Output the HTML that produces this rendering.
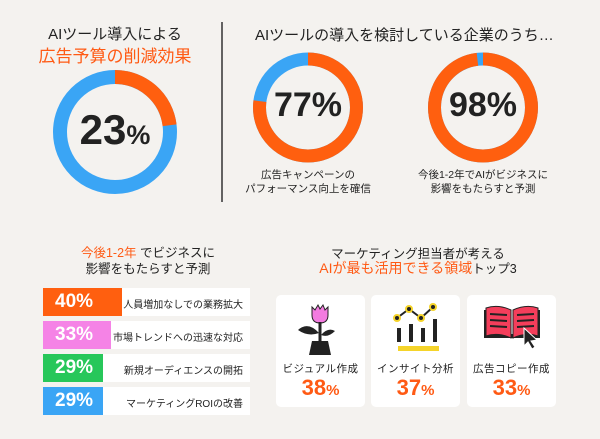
<!DOCTYPE html>
<html><head><meta charset="utf-8"><style>
body{margin:0;width:600px;height:439px;background:#f4f2ef;overflow:hidden;font-family:"Liberation Sans","Noto Sans CJK JP",sans-serif;color:#222;position:relative}
.a{position:absolute;white-space:nowrap}
.c{transform:translateX(-50%);text-align:center}
.o{color:#ff5a14}
.row{position:absolute;left:43px;width:207px;height:28px;background:#fff}
.row .bar{position:absolute;left:0;top:0;height:28px}
.row .p{position:absolute;left:12px;top:3px;font-size:19px;font-weight:bold;color:#fff}
.row .l{position:absolute;right:7px;top:8px;font-size:10px;letter-spacing:0}
.card{position:absolute;top:295px;width:89px;height:112px;background:#fff;border-radius:5px}
.card .t{position:absolute;top:66px;width:100%;text-align:center;font-size:10.5px;letter-spacing:0.5px}
.card .n{position:absolute;top:80px;width:100%;text-align:center;font-size:22px;font-weight:bold;color:#ff5a14}
.card .n small{font-size:15px}
</style></head><body>
<svg class="a" style="left:0;top:0" width="600" height="439">
 <g fill="none" stroke-width="14">
  <circle cx="115" cy="132" r="55" stroke="#3aa5f5"/>
  <circle cx="115" cy="132" r="55" stroke="#ff5f0f" stroke-dasharray="79.5 400" transform="rotate(-90 115 132)"/>
 </g>
 <g fill="none" stroke-width="13">
  <circle cx="308" cy="107.5" r="48.5" stroke="#3aa5f5"/>
  <circle cx="308" cy="107.5" r="48.5" stroke="#ff5f0f" stroke-dasharray="234.6 400" transform="rotate(-90 308 107.5)"/>
  <circle cx="483" cy="107.5" r="48.5" stroke="#3aa5f5"/>
  <circle cx="483" cy="107.5" r="48.5" stroke="#ff5f0f" stroke-dasharray="298.6 400" transform="rotate(-90 483 107.5)"/>
 </g>
 <line x1="222" y1="22" x2="222" y2="202" stroke="#333" stroke-width="1.5"/>
</svg>

<div class="a c" style="left:115px;top:23px;font-size:15px">AIツール導入による</div>
<div class="a c o" style="left:115px;top:42px;font-size:17px">広告予算の削減効果</div>
<div class="a c" style="left:115px;top:106px;font-size:42px;font-weight:bold">23<span style="font-size:27px">%</span></div>

<div class="a" style="left:255px;top:24px;font-size:15px">AIツールの導入を検討している企業のうち…</div>
<div class="a c" style="left:308px;top:86px;font-size:34px;font-weight:bold">77%</div>
<div class="a c" style="left:483px;top:86px;font-size:34px;font-weight:bold">98%</div>
<div class="a c" style="left:308px;top:168px;font-size:10.5px;line-height:14px">広告キャンペーンの<br>パフォーマンス向上を確信</div>
<div class="a c" style="left:483px;top:168px;font-size:10.5px;line-height:14px">今後1-2年でAIがビジネスに<br>影響をもたらすと予測</div>

<div class="a c" style="left:148px;top:245px;font-size:12.5px;line-height:16px"><span class="o">今後1-2年</span> でビジネスに<br>影響をもたらすと予測</div>
<div class="row" style="top:288px"><div class="bar" style="width:79px;background:#ff5f0f"></div><div class="p">40%</div><div class="l">人員増加なしでの業務拡大</div></div>
<div class="row" style="top:321px"><div class="bar" style="width:68px;background:#f583e6"></div><div class="p">33%</div><div class="l">市場トレンドへの迅速な対応</div></div>
<div class="row" style="top:354px"><div class="bar" style="width:60px;background:#27c75a"></div><div class="p">29%</div><div class="l">新規オーディエンスの開拓</div></div>
<div class="row" style="top:387px"><div class="bar" style="width:60px;background:#3aa5f5"></div><div class="p">29%</div><div class="l">マーケティングROIの改善</div></div>

<div class="a c" style="left:418px;top:243px;font-size:12.5px">マーケティング担当者が考える</div>
<div class="a c" style="left:418px;top:258px;font-size:14px"><span class="o">AIが最も活用できる領域</span><span style="font-size:12.5px">トップ3</span></div>
<div class="card" style="left:276px"><div class="t">ビジュアル作成</div><div class="n">38<small>%</small></div></div>
<div class="card" style="left:371px"><div class="t">インサイト分析</div><div class="n">37<small>%</small></div></div>
<div class="card" style="left:467px"><div class="t">広告コピー作成</div><div class="n">33<small>%</small></div></div>

<svg class="a" style="left:0;top:0" width="600" height="439">
 <!-- tulip -->
 <g transform="translate(320,305)">
  <path d="M-8 10 L-8 2 L-5 5 L-2 0 L0 4 L3 0 L5 5 L8 2 L8 10 Q8 18 0 18 Q-8 18 -8 10Z" fill="#f37be0" stroke="#222" stroke-width="1"/>
  <rect x="-1.5" y="17" width="3" height="24" fill="#222"/>
  <path d="M-1 28 Q-12 16 -22 25 Q-12 32 -1 28Z" fill="#222"/>
  <path d="M1 30 Q8 22 15 26 Q8 33 1 30Z" fill="#222"/>
  <path d="M-8 36 L8 36 L11 50 L-11 50Z" fill="#222"/>
 </g>
 <!-- chart icon -->
 <g transform="translate(415,303)">
  <polyline points="-18,15 -6,6 6,15 18,4" fill="none" stroke="#222" stroke-width="2"/>
  <g fill="#222" stroke="#f5d42a" stroke-width="2"><circle cx="-18" cy="15" r="3"/><circle cx="-6" cy="6" r="3"/><circle cx="6" cy="15" r="3"/><circle cx="18" cy="4" r="3"/></g>
  <rect x="-18" y="25" width="4" height="14" fill="#222"/><rect x="-6" y="21" width="4" height="18" fill="#222"/><rect x="6" y="25" width="4" height="14" fill="#222"/><rect x="18" y="16" width="4" height="23" fill="#222"/>
  <rect x="-17" y="43" width="41" height="5" fill="#f5d42a"/>
 </g>
 <!-- book icon -->
 <g transform="translate(512,302)">
  <path d="M-28 8 L-28 36 L28 36 L28 8 L20 8 L20 32 L-20 32 L-20 8Z" fill="#222"/>
  <path d="M-26 6 Q-14 2 -1 8 L-1 36 Q-14 30 -26 34Z" fill="#f43e5b" stroke="#222" stroke-width="1"/>
  <path d="M26 6 Q14 2 1 8 L1 36 Q14 30 26 34Z" fill="#f43e5b" stroke="#222" stroke-width="1"/>
  <g stroke="#222" stroke-width="2"><line x1="-22" y1="12" x2="-5" y2="13"/><line x1="-22" y1="18" x2="-5" y2="19"/><line x1="-22" y1="24" x2="-5" y2="25"/><line x1="5" y1="13" x2="22" y2="12"/><line x1="5" y1="19" x2="22" y2="18"/><line x1="5" y1="25" x2="22" y2="24"/></g>
  <path d="M12 26 L12 44 L16 40 L20 47 L23 45 L19 39 L25 38Z" fill="#222" stroke="#fff" stroke-width="1"/>
 </g>
</svg>
</body></html>
